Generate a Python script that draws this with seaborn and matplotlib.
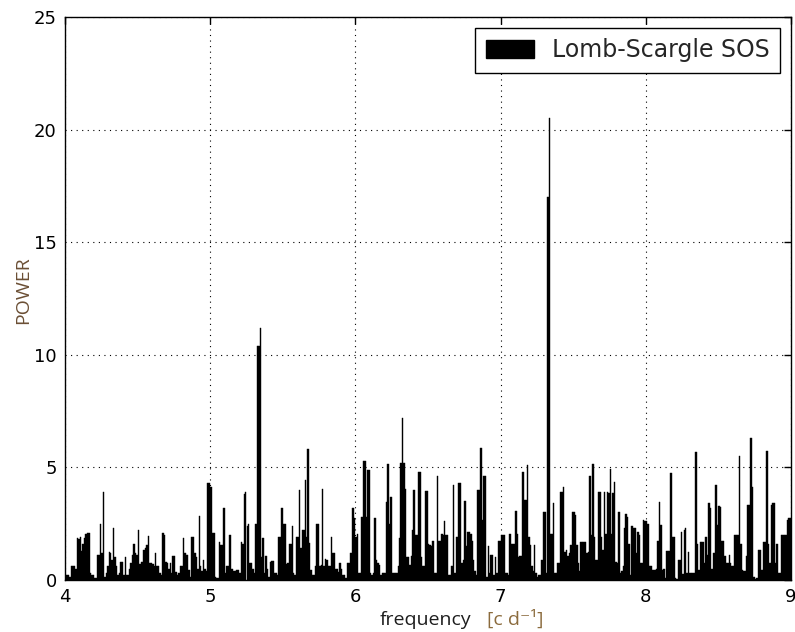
import numpy as np
import pandas as pd
import matplotlib
matplotlib.use("Agg")
import matplotlib.pyplot as plt
import seaborn as sns
from matplotlib.patches import Patch

# Lomb-Scargle power on a 0.01 c/d frequency grid, 4.00 .. 9.00 c/d
power = [
    0.1, 0.2, 0.2, 0.15, 0.6, 0.6, 0.6, 0.5, 1.85, 1.8,        # 4.0
    1.9, 1.3, 1.6, 1.85, 2.05, 2.07, 2.1, 0.3, 0.2, 0.2,       # 4.1
    0.1, 0.1, 1.1, 1.1, 2.5, 1.2, 3.9, 0.15, 0.3, 0.6,         # 4.2
    1.25, 1.2, 0.9, 2.3, 1.0, 0.6, 0.2, 0.3, 0.8, 0.8,         # 4.3
    0.2, 1.0, 0.2, 0.2, 0.5, 0.75, 1.1, 1.6, 1.2, 1.1,         # 4.4
    2.2, 0.7, 0.8, 0.8, 1.35, 1.4, 1.55, 1.95, 0.75, 0.75,     # 4.5
    0.7, 0.6, 1.2, 0.6, 0.6, 0.3, 0.2, 2.1, 2.0, 0.8,          # 4.6
    0.75, 0.5, 0.75, 0.3, 1.05, 1.05, 0.35, 0.2, 0.3, 0.6,     # 4.7
    0.6, 1.85, 1.2, 1.1, 1.1, 0.45, 0.15, 1.9, 1.9, 1.2,       # 4.8
    1.0, 0.5, 2.85, 0.6, 0.4, 0.9, 0.5, 0.4, 4.3, 4.3,         # 4.9
    4.15, 2.1, 2.1, 0.15, 0.1, 0.1, 1.7, 1.55, 1.55, 3.2,      # 5.0
    0.3, 0.6, 0.6, 2.0, 0.5, 0.5, 0.4, 0.4, 0.45, 0.45,        # 5.1
    0.3, 1.7, 1.6, 3.8, 3.9, 2.4, 2.5, 0.75, 0.75, 0.5,        # 5.2
    0.3, 2.5, 10.4, 10.4, 11.2, 1.0, 1.85, 0.3, 1.05, 0.5,     # 5.3
    0.15, 0.8, 0.85, 0.85, 0.3, 0.3, 0.2, 1.9, 1.9, 3.2,       # 5.4
    2.5, 2.5, 0.7, 0.75, 1.6, 1.6, 2.4, 0.3, 0.2, 1.9,         # 5.5
    1.9, 4.0, 1.4, 2.2, 2.2, 4.45, 1.9, 5.8, 1.65, 0.45,       # 5.6
    0.2, 0.2, 0.6, 2.5, 2.5, 0.6, 0.65, 4.05, 0.6, 0.95,       # 5.7
    0.9, 0.6, 0.6, 1.9, 1.2, 1.2, 0.5, 0.5, 0.35, 0.75,        # 5.8
    0.5, 0.2, 0.2, 0.1, 0.75, 0.75, 1.2, 1.2, 3.2, 2.75,       # 5.9
    1.9, 2.05, 0.3, 0.3, 2.8, 5.3, 5.3, 2.8, 4.9, 4.9,         # 6.0
    0.3, 0.2, 0.3, 2.75, 0.9, 0.75, 0.65, 0.2, 0.3, 0.3,       # 6.1
    0.3, 3.45, 5.15, 2.5, 3.7, 0.3, 0.3, 0.3, 0.3, 0.6,        # 6.2
    1.85, 5.2, 7.2, 5.2, 4.05, 1.0, 1.0, 0.65, 1.05, 2.2,      # 6.3
    4.0, 2.0, 2.0, 4.8, 4.8, 1.0, 0.6, 0.6, 3.95, 3.95,        # 6.4
    1.6, 1.55, 1.5, 1.75, 0.3, 0.3, 4.6, 1.75, 1.75, 2.05,     # 6.5
    2.0, 2.6, 2.0, 2.0, 0.2, 0.2, 0.6, 4.2, 0.3, 1.9,          # 6.6
    1.9, 4.3, 4.3, 0.75, 0.9, 3.5, 1.5, 2.15, 2.15, 2.05,      # 6.7
    1.75, 0.9, 0.4, 0.2, 4.0, 4.0, 5.85, 2.65, 4.6, 4.6,       # 6.8
    0.15, 1.5, 0.3, 1.1, 1.1, 0.2, 1.0, 0.3, 1.75, 1.75,       # 6.9
    2.0, 2.0, 2.0, 0.3, 0.3, 0.2, 2.05, 1.6, 1.6, 1.6,         # 7.0
    3.05, 2.05, 1.0, 1.05, 1.05, 4.8, 3.55, 3.55, 5.1, 1.9,    # 7.1
    1.55, 0.6, 0.4, 1.55, 0.3, 0.15, 0.2, 0.2, 0.9, 3.0,       # 7.2
    3.0, 0.3, 17.0, 20.5, 2.05, 2.05, 3.4, 0.3, 0.3, 0.75,     # 7.3
    0.75, 3.9, 3.9, 4.15, 1.25, 1.35, 1.05, 1.2, 1.55, 3.0,    # 7.4
    3.0, 2.9, 1.55, 0.75, 0.4, 1.7, 1.7, 1.7, 1.7, 1.2,        # 7.5
    1.25, 4.6, 2.0, 5.15, 1.9, 0.9, 0.9, 3.9, 3.9, 1.9,        # 7.6
    1.35, 3.9, 2.05, 3.9, 3.85, 4.95, 2.05, 3.85, 4.35, 0.8,   # 7.7
    0.75, 3.0, 0.3, 0.4, 0.6, 2.3, 2.95, 2.8, 1.6, 0.2,        # 7.8
    2.4, 2.3, 2.3, 1.2, 2.15, 2.0, 0.75, 0.75, 2.65, 2.6,      # 7.9
    2.6, 2.5, 0.6, 0.6, 0.45, 0.45, 0.45, 0.5, 1.75, 3.45,     # 8.0
    2.45, 0.45, 0.5, 0.1, 1.3, 1.3, 1.3, 4.75, 1.9, 1.9,       # 8.1
    0.1, 0.05, 0.9, 0.9, 2.15, 0.25, 2.2, 2.3, 0.3, 1.25,      # 8.2
    0.3, 0.3, 0.3, 0.3, 5.7, 1.6, 0.45, 1.7, 1.7, 1.7,         # 8.3
    0.75, 1.9, 1.1, 3.4, 3.2, 0.5, 1.2, 1.2, 4.2, 2.45,        # 8.4
    3.3, 3.25, 1.75, 1.75, 1.05, 0.75, 0.75, 1.1, 0.75, 0.6,   # 8.5
    0.6, 2.0, 2.0, 2.0, 5.5, 1.6, 0.45, 0.4, 0.4, 1.05,        # 8.6
    3.35, 3.35, 6.3, 4.15, 0.15, 0.05, 0.1, 1.35, 1.35, 0.45,  # 8.7
    0.45, 1.7, 1.7, 5.75, 1.6, 0.75, 3.35, 3.4, 3.4, 0.75,     # 8.8
    1.6, 0.3, 0.3, 2.0, 2.0, 2.0, 2.0, 2.65, 2.75, 2.75,       # 8.9
]

freq_range = [4.0, 9.0]
freq_step = 0.01
x_ticks = [4, 5, 6, 7, 8, 9]
y_ticks = [0, 5, 10, 15, 20, 25]
series_label = "Lomb-Scargle SOS"

# bin centres of the frequency grid
freq = freq_range[0] + freq_step * (np.arange(len(power)) + 0.5)
df = pd.DataFrame({"frequency": freq, "power": power})

sns.set_style("white")
plt.rcParams["font.family"] = ["DejaVu Sans"]

fig = plt.figure(figsize=(7.95, 6.32), dpi=100)
ax = fig.add_axes([65 / 795, 1 - 580 / 632, (791 - 65) / 795, (580 - 17) / 632])

sns.histplot(data=df, x="frequency", weights="power", binwidth=freq_step,
             binrange=tuple(freq_range), color="black", alpha=1,
             edgecolor="black", linewidth=0.3, ax=ax)

ax.set_xlim(*freq_range)
ax.set_ylim(0, 25)
ax.set_xticks(x_ticks)
ax.set_yticks(y_ticks)
ax.set_xlabel("")
ax.set_ylabel("")

ax.grid(True, color="black", linestyle=(0, (1, 4)), linewidth=0.8)
ax.set_axisbelow(False)
for s in ax.spines.values():
    s.set_visible(True)
    s.set_color("black")
    s.set_linewidth(1.0)
ax.tick_params(direction="in", length=5, width=1, top=True, right=True,
               labelsize=13, pad=6, colors="black")

leg = ax.legend(handles=[Patch(facecolor="black", edgecolor="black", label=series_label)],
                loc="upper right", fancybox=False, framealpha=1, fontsize=17,
                handlelength=2.05, handleheight=0.75, borderpad=0.45,
                handletextpad=0.75, borderaxespad=0.45)
leg.get_frame().set_edgecolor("black")
leg.get_frame().set_linewidth(1.0)

label_font = ["Open Sans", "DejaVu Sans"]
fig.text(23 / 795, 1 - 290 / 632, "POWER", rotation=90, ha="center", va="center",
         fontsize=14, color="#6b4f35", family=label_font)
fig.text(380 / 795, 1 - 625 / 632, "frequency", ha="left", va="baseline",
         fontsize=14, color="#1e1e1e", family=label_font)
fig.text(487 / 795, 1 - 625 / 632, "[c d\u207b\u00b9]", ha="left", va="baseline",
         fontsize=14, color="#8b6b3d", family=label_font)

fig.savefig("out.png", dpi=100)
